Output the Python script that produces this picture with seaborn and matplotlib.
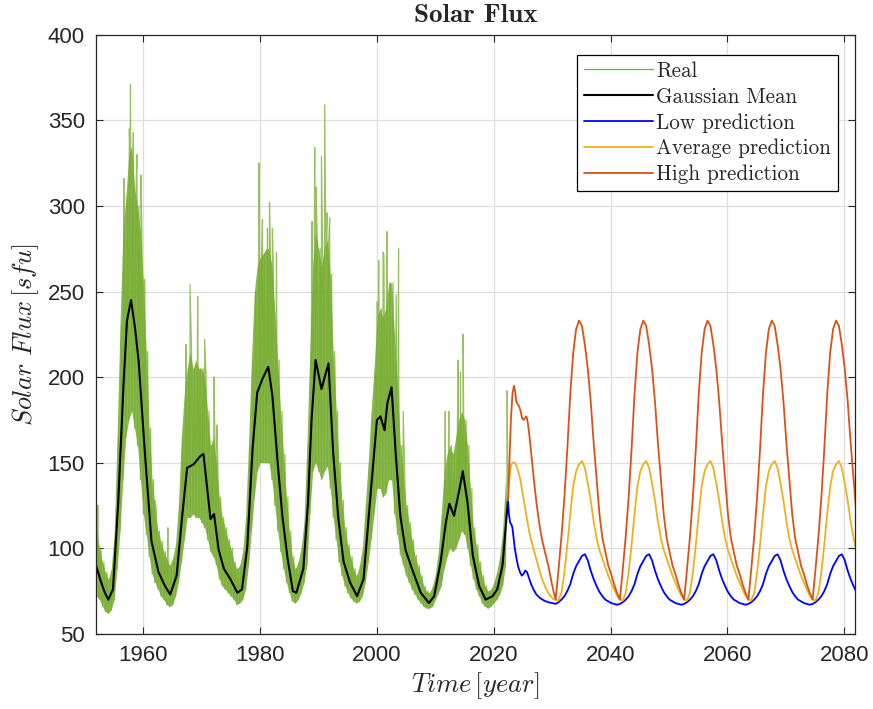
import numpy as np
import pandas as pd
import matplotlib
matplotlib.use("Agg")
import matplotlib.pyplot as plt
import seaborn as sns

# ---------------------------------------------------------------------------
# Observed solar flux (sfu): half-year band bottom / top of the daily values
# ---------------------------------------------------------------------------
real_start, real_stop = 1952.0, 2022.0
real_lo = [72, 70, 66, 63, 62, 64, 70, 88, 110, 140, 165, 175, 180, 170, 160, 140,
           120, 108, 95, 85, 80, 76, 72, 70, 67, 66, 67, 72, 80, 92, 105, 118,
           118, 120, 118, 118, 115, 112, 105, 98, 95, 90, 82, 78, 76, 74, 72, 70,
           67, 68, 70, 76, 90, 110, 130, 145, 150, 150, 150, 150, 140, 125, 110, 98,
           88, 80, 74, 69, 68, 70, 74, 80, 90, 120, 145, 150, 145, 140, 145, 148,
           135, 118, 105, 92, 84, 78, 74, 71, 69, 68, 69, 72, 80, 92, 105, 120,
           135, 135, 130, 132, 140, 140, 120, 108, 96, 90, 84, 80, 76, 73, 70, 68,
           66, 65, 65, 66, 70, 74, 78, 88, 95, 100, 98, 100, 105, 110, 108, 100,
           90, 82, 76, 72, 68, 66, 65, 66, 68, 70, 73, 78, 90]
real_hi = [110, 100, 92, 86, 82, 88, 108, 165, 230, 285, 305, 330, 335, 310, 300, 285,
           255, 215, 170, 140, 122, 110, 104, 98, 94, 90, 94, 102, 125, 165, 190, 205,
           215, 205, 210, 205, 205, 200, 180, 160, 165, 150, 130, 118, 112, 105, 100, 92,
           88, 90, 98, 118, 160, 210, 250, 265, 270, 272, 275, 275, 265, 240, 210, 180,
           155, 130, 110, 95, 88, 92, 100, 115, 160, 215, 265, 285, 275, 265, 275, 280,
           260, 215, 180, 150, 128, 112, 102, 95, 88, 84, 90, 100, 125, 150, 180, 205,
           235, 240, 235, 240, 255, 255, 225, 195, 160, 145, 125, 115, 105, 96, 90, 84,
           78, 75, 74, 78, 85, 98, 120, 145, 155, 160, 155, 165, 175, 180, 175, 160,
           135, 112, 102, 92, 84, 78, 75, 76, 80, 86, 95, 110, 140]

# Isolated high-flux days
spike_years = [1952.2, 1956.7, 1957.6, 1957.8, 1958.3, 1958.9, 1959.6, 1960.2, 1962.0,
               1964.2, 1967.3, 1968.0, 1969.3, 1970.5, 1972.1, 1972.6, 1979.8, 1980.4,
               1981.25, 1981.6, 1982.1, 1982.8, 1988.9, 1989.35, 1989.6, 1990.5,
               1991.05, 1991.45, 1991.9, 1992.95, 2000.0, 2000.3, 2001.05, 2001.2,
               2001.7, 2003.3, 2003.7, 2004.5, 2011.7, 2012.3, 2013.9, 2014.3,
               2014.75, 2022.3, 2022.42]
spike_vals = [125, 316, 345, 371, 343, 330, 318, 257, 128, 112, 219, 254, 247, 222, 200,
              172, 325, 292, 287, 302, 287, 273, 291, 334, 311, 329, 359, 296, 293, 183,
              244, 268, 273, 271, 285, 248, 275, 180, 180, 180, 210, 203, 225, 192, 135]

# ---------------------------------------------------------------------------
# Gaussian-smoothed mean of the observations
# ---------------------------------------------------------------------------
mean_years = [1951.9, 1952.6, 1953.3, 1954.0, 1954.8, 1955.7, 1956.6, 1957.2, 1957.9,
              1958.6, 1959.2, 1960.3, 1961.4, 1962.6, 1963.7, 1964.6, 1965.7, 1966.6,
              1967.5, 1968.6, 1969.8, 1970.3, 1970.9, 1971.5, 1972.1, 1972.9, 1973.8,
              1974.9, 1976.1, 1976.9, 1977.8, 1978.7, 1979.5, 1980.4, 1981.4, 1982.1,
              1983.0, 1983.8, 1984.7, 1985.6, 1986.2, 1987.4, 1988.2, 1988.8, 1989.5,
              1990.5, 1991.7, 1992.5, 1993.4, 1994.3, 1995.4, 1996.6, 1997.7, 1998.8,
              2000.0, 2000.6, 2001.3, 2001.8, 2002.5, 2003.2, 2004.0, 2004.9, 2006.0,
              2007.5, 2008.9, 2009.8, 2010.9, 2011.8, 2012.4, 2013.2, 2014.1, 2014.7,
              2015.5, 2016.4, 2017.5, 2018.6, 2019.8, 2020.6, 2021.5, 2022.45]
mean_vals = [90, 82, 75, 70, 76, 127, 195, 233, 245, 228, 209, 154, 104, 86, 78, 73, 84,
             117, 147, 149, 154, 155, 136, 117, 120, 99, 88, 82, 74, 76, 101, 158, 191,
             199, 206, 189, 150, 119, 94, 75, 74, 88, 127, 175, 210, 193, 208, 156, 117,
             92, 80, 72, 82, 127, 175, 177, 169, 185, 194, 156, 119, 99, 88, 74, 68, 72,
             92, 115, 126, 119, 134, 145, 127, 96, 78, 70, 72, 76, 90, 129]

# ---------------------------------------------------------------------------
# Predictions: decay of the running cycle, then cycles sampled every 0.5 year
# ---------------------------------------------------------------------------
low_early_years = [2022.45, 2022.6, 2022.8, 2023.0, 2023.2, 2023.4, 2023.6, 2023.9,
                   2024.2, 2024.5, 2024.8, 2025.1, 2025.4, 2025.7, 2026.0, 2026.4,
                   2026.8, 2027.3, 2027.9, 2028.6, 2029.3, 2030.0]
low_early = [128, 120, 115, 114, 112, 106, 100, 94, 89, 86, 84, 85, 87, 86, 83, 79, 76,
             73, 71, 69.5, 68.5, 68]
avg_early_years = [2022.45, 2022.6, 2022.8, 2023.0, 2023.3, 2023.6, 2023.9, 2024.2,
                   2024.5, 2024.8, 2025.1, 2025.4, 2025.7, 2026.0, 2026.3, 2026.7,
                   2027.1, 2027.5, 2028.0, 2028.5, 2029.0, 2029.5, 2030.0, 2030.3]
avg_early = [128, 138, 145, 149, 150, 150, 148, 145, 141, 135, 129, 123, 117, 111, 106,
             101, 96, 91, 85, 80, 76, 73, 71, 70]
high_early_years = [2022.45, 2022.7, 2022.95, 2023.2, 2023.45, 2023.65, 2023.85, 2024.1,
                    2024.35, 2024.6, 2024.85, 2025.1, 2025.35, 2025.6, 2025.85, 2026.1,
                    2026.4, 2026.7, 2027.0, 2027.3, 2027.65, 2028.0, 2028.4, 2028.9,
                    2029.4, 2029.9, 2030.3]
high_early = [128, 152, 176, 190, 195, 192, 186, 184, 183, 180, 176, 175, 176, 177, 173,
              166, 156, 146, 136, 127, 118, 110, 103, 96, 89, 80, 74]

cycle_start, cycle_step = 2030.6, 0.5
low_cycles = [
    67.5, 68.5, 70, 72, 75, 79, 85, 89.5, 92.5, 95.5, 96.5, 93, 87, 82, 78, 74.5, 72, 70, 69, 68, 67.5, 67,
    67.5, 68.5, 70, 72, 75, 79, 85, 89.5, 92.5, 95.5, 96.5, 93, 87, 82, 78, 74.5, 72, 70, 69, 68, 67.5, 67,
    67.5, 68.5, 70, 72, 75, 79, 85, 89.5, 92.5, 95.5, 96.5, 93, 87, 82, 78, 74.5, 72, 70, 69, 68, 67.5, 67,
    67.5, 68.5, 70, 72, 75, 79, 85, 89.5, 92.5, 95.5, 96.5, 93, 87, 82, 78, 74.5, 72, 70, 69, 68, 67.5, 67,
    67.5, 68.5, 70, 72, 75, 79, 85, 89.5, 92.5, 95.5, 96.5, 93, 87, 82, 78, 74.5]
avg_cycles = [
    70, 69.5, 74, 86, 102, 120, 136, 145, 149, 151, 147, 138, 128, 116, 106, 99, 94, 89, 84, 80, 76, 72.5,
    70, 69.5, 74, 86, 102, 120, 136, 145, 149, 151, 147, 138, 128, 116, 106, 99, 94, 89, 84, 80, 76, 72.5,
    70, 69.5, 74, 86, 102, 120, 136, 145, 149, 151, 147, 138, 128, 116, 106, 99, 94, 89, 84, 80, 76, 72.5,
    70, 69.5, 74, 86, 102, 120, 136, 145, 149, 151, 147, 138, 128, 116, 106, 99, 94, 89, 84, 80, 76, 72.5,
    70, 69.5, 74, 86, 102, 120, 136, 145, 149, 151, 147, 138, 128, 116, 106, 99]
high_cycles = [
    70, 88, 107, 130, 158, 190, 214, 228, 233, 230, 219, 205, 186, 162, 141, 120, 106, 98, 90, 85, 79, 74,
    70, 88, 107, 130, 158, 190, 214, 228, 233, 230, 219, 205, 186, 162, 141, 120, 106, 98, 90, 85, 79, 74,
    70, 88, 107, 130, 158, 190, 214, 228, 233, 230, 219, 205, 186, 162, 141, 120, 106, 98, 90, 85, 79, 74,
    70, 88, 107, 130, 158, 190, 214, 228, 233, 230, 219, 205, 186, 162, 141, 120, 106, 98, 90, 85, 79, 74,
    70, 88, 107, 130, 158, 190, 214, 228, 233, 230, 219, 205, 186, 162, 141, 120]

x_ticks = [1960, 1980, 2000, 2020, 2040, 2060, 2080]
y_ticks = [50, 100, 150, 200, 250, 300, 350, 400]

c_real = "#77AC30"
c_mean = "#000000"
c_low = "#0000FF"
c_avg = "#EDB120"
c_high = "#D95319"

# ---------------------------------------------------------------------------
sns.set_theme(style="ticks")
plt.rcParams["font.family"] = ["Liberation Sans", "DejaVu Sans"]
plt.rcParams["mathtext.fontset"] = "cm"

# Observed series: alternate band bottom/top, with spike days merged in time order
real_years = np.arange(real_start, real_stop + 0.01, 0.5)
zig_x = np.empty(2 * len(real_years))
zig_y = np.empty(2 * len(real_years))
zig_x[0::2], zig_x[1::2] = real_years, real_years + 0.25
zig_y[0::2], zig_y[1::2] = real_lo, real_hi
obs_x = np.concatenate([zig_x, spike_years])
obs_y = np.concatenate([zig_y, spike_vals])
order = np.argsort(obs_x, kind="stable")
real_df = pd.DataFrame({"year": obs_x[order], "flux": obs_y[order]})

mean_df = pd.DataFrame({"year": mean_years, "flux": mean_vals})

cycle_years = cycle_start + cycle_step * np.arange(len(low_cycles))
low_df = pd.DataFrame({"year": np.concatenate([low_early_years, cycle_years]),
                       "flux": np.concatenate([low_early, low_cycles])})
avg_df = pd.DataFrame({"year": np.concatenate([avg_early_years, cycle_years]),
                       "flux": np.concatenate([avg_early, avg_cycles])})
high_df = pd.DataFrame({"year": np.concatenate([high_early_years, cycle_years]),
                        "flux": np.concatenate([high_early, high_cycles])})

fig = plt.figure(figsize=(8.73, 7.09), dpi=100)
ax = fig.add_axes([0.110, 0.106, 0.869, 0.845])

# dense part of the daily scatter
ax.fill_between(real_years, real_lo, real_hi, color=c_real, alpha=0.85,
                linewidth=0, zorder=1.5)

line_kw = dict(x="year", y="flux", ax=ax, estimator=None, sort=False)
sns.lineplot(data=real_df, color=c_real, linewidth=0.9, alpha=0.75, label="Real", **line_kw)
sns.lineplot(data=mean_df, color=c_mean, linewidth=1.5, label="Gaussian Mean", **line_kw)
sns.lineplot(data=low_df, color=c_low, linewidth=1.3, label="Low prediction", **line_kw)
sns.lineplot(data=avg_df, color=c_avg, linewidth=1.3, label="Average prediction", **line_kw)
sns.lineplot(data=high_df, color=c_high, linewidth=1.3, label="High prediction", **line_kw)

ax.set_xlim(1951.9, 2081.8)
ax.set_ylim(50, 400)
ax.set_xticks(x_ticks)
ax.set_yticks(y_ticks)
ax.grid(True, color="#dedede", linewidth=0.9)
ax.set_axisbelow(True)
for s in ax.spines.values():
    s.set_visible(True)
    s.set_color("#262626")
    s.set_linewidth(0.9)
ax.tick_params(direction="in", length=5, width=0.8, top=True, right=True,
               labelsize=16, colors="#262626", pad=8)

ax.set_title(r"Solar Flux", fontfamily="cmb10", fontsize=19.5, pad=9)
ax.set_xlabel(r"$Time\,[year]$", fontsize=19, labelpad=3)
ax.set_ylabel(r"$Solar\ Flux\,[sfu]$", fontsize=19, labelpad=5)

leg = ax.legend(loc="upper right", bbox_to_anchor=(0.978, 0.967), borderaxespad=0,
                prop={"family": "cmr10", "size": 15.2}, frameon=True, fancybox=False,
                handlelength=3.3, handletextpad=0.15, labelspacing=0.3,
                borderpad=0.32)
leg.get_frame().set_edgecolor("#000000")
leg.get_frame().set_linewidth(0.9)
leg.get_frame().set_alpha(1)
for h in leg.get_lines():
    h.set_alpha(1)

fig.savefig("out.png", dpi=100)
